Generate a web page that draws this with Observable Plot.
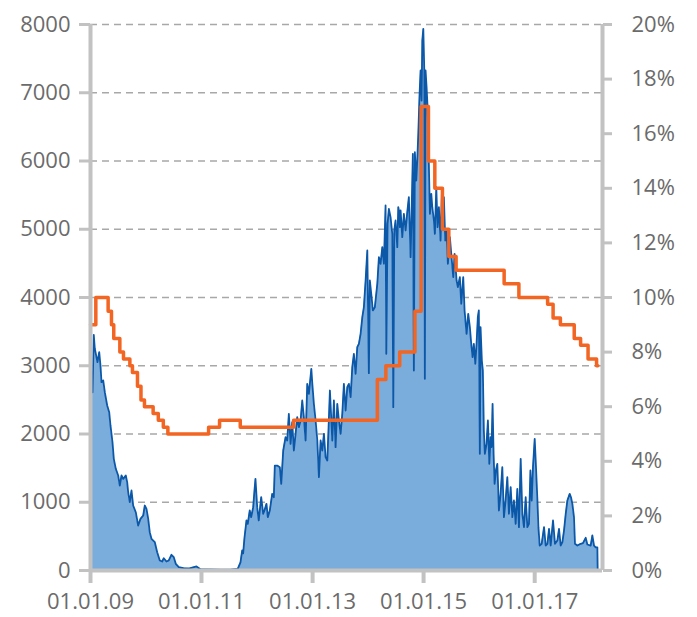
<!DOCTYPE html>
<html>
<head>
<meta charset="utf-8">
<script src="https://cdn.jsdelivr.net/npm/d3@7"></script>
<script src="https://cdn.jsdelivr.net/npm/@observablehq/plot@0.6"></script>
<style>
  html, body { margin: 0; padding: 0; background: #fff; }
  #chart svg { display: block; }
</style>
</head>
<body>
<div id="chart"></div>
<script>
// Blue series: [decimal year, value] (left axis)
const blueSeries = [
  [2009.036, 2612], [2009.059, 3453], [2009.077, 3253], [2009.108, 3126], [2009.126, 3052],
  [2009.157, 3199], [2009.180, 3004], [2009.198, 2759], [2009.229, 2784], [2009.258, 2612],
  [2009.301, 2418], [2009.337, 2320], [2009.360, 2125], [2009.396, 1880], [2009.420, 1636],
  [2009.456, 1490], [2009.499, 1392], [2009.528, 1245], [2009.559, 1392], [2009.589, 1343],
  [2009.636, 1392], [2009.661, 1294], [2009.679, 1147], [2009.708, 1001], [2009.739, 1172],
  [2009.769, 952], [2009.816, 854], [2009.859, 659], [2009.901, 757], [2009.950, 806],
  [2009.978, 952], [2010.009, 904], [2010.040, 757], [2010.068, 561], [2010.099, 464],
  [2010.159, 415], [2010.202, 268], [2010.249, 147], [2010.292, 132], [2010.321, 180],
  [2010.369, 132], [2010.411, 147], [2010.459, 230], [2010.501, 195], [2010.537, 98],
  [2010.591, 49], [2010.676, 35], [2010.771, 29], [2010.910, 60], [2010.982, 20],
  [2011.162, 15], [2011.342, 12], [2011.523, 14], [2011.654, 24], [2011.703, 120],
  [2011.733, 293], [2011.751, 250], [2011.775, 480], [2011.811, 733], [2011.834, 684],
  [2011.870, 879], [2011.896, 781], [2011.932, 928], [2011.955, 1172], [2011.973, 1343],
  [2012.004, 928], [2012.032, 733], [2012.076, 1074], [2012.112, 831], [2012.135, 879],
  [2012.171, 977], [2012.195, 781], [2012.231, 879], [2012.274, 1123], [2012.303, 1074],
  [2012.321, 1538], [2012.364, 1538], [2012.411, 1514], [2012.436, 1270], [2012.472, 1758],
  [2012.514, 1953], [2012.544, 1905], [2012.573, 2296], [2012.604, 1856], [2012.634, 2173],
  [2012.663, 1758], [2012.694, 2003], [2012.724, 2246], [2012.753, 2100], [2012.784, 2198],
  [2012.814, 2491], [2012.843, 2246], [2012.874, 1905], [2012.904, 2735], [2012.933, 2589],
  [2012.977, 2955], [2012.995, 2735], [2013.023, 2442], [2013.054, 2198], [2013.085, 1905],
  [2013.114, 1367], [2013.144, 1905], [2013.175, 1758], [2013.204, 2003], [2013.234, 1660],
  [2013.265, 1612], [2013.288, 2100], [2013.312, 2637], [2013.355, 1905], [2013.384, 2491],
  [2013.414, 1807], [2013.445, 2442], [2013.474, 2198], [2013.505, 2003], [2013.535, 2296],
  [2013.564, 2735], [2013.595, 2344], [2013.625, 2686], [2013.654, 2735], [2013.685, 2540],
  [2013.715, 2979], [2013.744, 3175], [2013.775, 2882], [2013.805, 3272], [2013.834, 3321],
  [2013.865, 3468], [2013.896, 3712], [2013.924, 3858], [2013.955, 4249], [2013.986, 4689],
  [2014.014, 2891], [2014.032, 4249], [2014.063, 4005], [2014.086, 3810], [2014.122, 3858],
  [2014.166, 4200], [2014.195, 4591], [2014.225, 4494], [2014.256, 4737], [2014.285, 4494],
  [2014.315, 5348], [2014.328, 3175], [2014.351, 5079], [2014.375, 5299], [2014.405, 5177],
  [2014.436, 4933], [2014.454, 2393], [2014.472, 4982], [2014.495, 5128], [2014.526, 4737],
  [2014.544, 5323], [2014.555, 5275], [2014.573, 5030], [2014.586, 5275], [2014.616, 4884],
  [2014.645, 5226], [2014.676, 4982], [2014.706, 5250], [2014.735, 5470], [2014.766, 4591],
  [2014.784, 5226], [2014.807, 6105], [2014.825, 2930], [2014.843, 6129], [2014.868, 5714],
  [2014.886, 6007], [2014.905, 6398], [2014.928, 6984], [2014.946, 7326], [2014.964, 6886],
  [2014.977, 7765], [2014.995, 7937], [2015.013, 7326], [2015.023, 2809], [2015.036, 7326],
  [2015.054, 7082], [2015.072, 6788], [2015.095, 5959], [2015.114, 5226], [2015.139, 5519],
  [2015.157, 5323], [2015.186, 5128], [2015.204, 4933], [2015.229, 5616], [2015.252, 5030],
  [2015.276, 5323], [2015.306, 4835], [2015.330, 5519], [2015.351, 5100], [2015.366, 5470],
  [2015.391, 4835], [2015.414, 4982], [2015.438, 4494], [2015.474, 4884], [2015.499, 4640],
  [2015.535, 4298], [2015.559, 4640], [2015.595, 4249], [2015.618, 4151], [2015.654, 4298],
  [2015.679, 3908], [2015.715, 4298], [2015.739, 3810], [2015.775, 3468], [2015.805, 3761],
  [2015.834, 3565], [2015.859, 3321], [2015.883, 3126], [2015.906, 3321], [2015.932, 3029],
  [2015.955, 3321], [2015.978, 3712], [2015.996, 3810], [2016.014, 1710], [2016.027, 3565],
  [2016.050, 3077], [2016.068, 2930], [2016.086, 2051], [2016.104, 1710], [2016.135, 1856],
  [2016.159, 2198], [2016.184, 1563], [2016.207, 1953], [2016.225, 1807], [2016.243, 2442],
  [2016.261, 1710], [2016.279, 1270], [2016.303, 1465], [2016.328, 1563], [2016.357, 879],
  [2016.387, 1123], [2016.418, 1514], [2016.447, 781], [2016.477, 1026], [2016.508, 1367],
  [2016.537, 831], [2016.568, 1221], [2016.598, 781], [2016.627, 1026], [2016.658, 684],
  [2016.688, 1197], [2016.717, 635], [2016.748, 1636], [2016.778, 831], [2016.807, 635],
  [2016.838, 1074], [2016.868, 635], [2016.897, 684], [2016.923, 1465], [2016.946, 1026],
  [2016.969, 1514], [2017.000, 1929], [2017.018, 1612], [2017.049, 1026], [2017.067, 635],
  [2017.090, 366], [2017.126, 391], [2017.168, 635], [2017.198, 366], [2017.229, 391],
  [2017.258, 611], [2017.288, 366], [2017.330, 733], [2017.366, 391], [2017.409, 440],
  [2017.438, 611], [2017.468, 366], [2017.499, 415], [2017.528, 586], [2017.559, 831],
  [2017.589, 1026], [2017.631, 1123], [2017.654, 1074], [2017.679, 977], [2017.708, 781],
  [2017.726, 391], [2017.769, 366], [2017.829, 391], [2017.870, 400], [2017.919, 479],
  [2017.949, 381], [2018.009, 366], [2018.039, 513], [2018.069, 366], [2018.099, 340],
  [2018.129, 340], [2018.135, 0]
];

// Orange step series: [start date, rate %] (right axis)
const rateSteps = [
  ["2009-01-01", 9], ["2009-02-05", 10], ["2009-04-27", 9.5], ["2009-05-19", 9],
  ["2009-06-03", 8.5], ["2009-07-13", 8], ["2009-08-06", 7.75], ["2009-09-17", 7.5],
  ["2009-10-04", 7.25], ["2009-11-06", 6.75], ["2009-11-29", 6.25], ["2009-12-22", 6],
  ["2010-02-17", 5.75], ["2010-03-23", 5.5], ["2010-04-25", 5.25], ["2010-05-25", 5],
  ["2011-02-17", 5.25], ["2011-04-30", 5.5], ["2011-09-13", 5.25], ["2012-08-29", 5.5],
  ["2014-03-03", 7], ["2014-04-28", 7.5], ["2014-07-28", 8], ["2014-11-05", 9.5],
  ["2014-12-16", 17], ["2015-02-02", 15], ["2015-03-16", 14], ["2015-05-05", 12.5],
  ["2015-06-16", 11.5], ["2015-08-03", 11], ["2016-06-14", 10.5], ["2016-09-19", 10],
  ["2017-03-27", 9.75], ["2017-05-02", 9.25], ["2017-06-19", 9], ["2017-09-18", 8.5],
  ["2017-10-30", 8.25], ["2017-12-18", 7.75], ["2018-02-12", 7.5], ["2018-02-20", 7.5]
];

const xTicks = ["2009-01-01", "2011-01-01", "2013-01-01", "2015-01-01", "2017-01-01"];
const leftTicks = [0, 1000, 2000, 3000, 4000, 5000, 6000, 7000, 8000];
const rightTicks = [0, 2, 4, 6, 8, 10, 12, 14, 16, 18, 20];
const gridValues = [1000, 2000, 3000, 4000, 5000, 6000, 7000, 8000];

function decToDate(t) {
  const y = Math.floor(t);
  const a = Date.UTC(y, 0, 1), b = Date.UTC(y + 1, 0, 1);
  return new Date(a + (t - y) * (b - a));
}

const blue = blueSeries.map(([t, v]) => ({date: decToDate(t), value: v}));
const SCALE = 8000 / 20; // right axis 0–20% mapped onto left 0–8000
const rate = rateSteps.map(([d, r]) => ({date: new Date(d), value: r * SCALE}));

const xDomain = [new Date("2009-01-01"), new Date("2018-03-23")];
const axisGray = "#c2c2c2";
const textGray = "#6b6b6b";
const fmt = d3.utcFormat("%d.%m.%y");

const chart = Plot.plot({
  width: 697,
  height: 617,
  marginLeft: 90,
  marginRight: 95,
  marginTop: 24,
  marginBottom: 47,
  style: {fontFamily: "'Open Sans', sans-serif", background: "#fff"},
  x: {type: "utc", domain: xDomain},
  y: {domain: [0, 8000]},
  marks: [
    Plot.ruleY(gridValues, {stroke: "#a8a8a8", strokeWidth: 1.6, strokeDasharray: "7,5"}),
    Plot.areaY(blue, {x: "date", y: "value", fill: "#7aacdc"}),
    Plot.lineY(blue, {x: "date", y: "value", stroke: "#0b57a8", strokeWidth: 1.8, strokeLinejoin: "round"}),
    Plot.lineY(rate, {x: "date", y: "value", curve: "step-after", stroke: "#f26522", strokeWidth: 3.5}),
    Plot.ruleX([xDomain[0]], {stroke: axisGray, strokeWidth: 4}),
    Plot.ruleX([xDomain[1]], {stroke: axisGray, strokeWidth: 4}),
    Plot.ruleY([0], {stroke: axisGray, strokeWidth: 4}),
    Plot.axisX({
      ticks: xTicks.map(d => new Date(d)), tickFormat: fmt, tickSize: 13, tickPadding: 10,
      stroke: axisGray, strokeWidth: 4, fill: textGray, fontSize: 22, label: null
    }),
    Plot.axisY({
      anchor: "left", ticks: leftTicks, tickFormat: d => String(d), tickSize: 11, tickPadding: 9,
      stroke: axisGray, strokeWidth: 3, fill: textGray, fontSize: 22, label: null
    }),
    Plot.axisY({
      anchor: "right", ticks: rightTicks.map(r => r * SCALE), tickFormat: d => (d / SCALE) + "%",
      tickSize: 9, tickPadding: 20, stroke: axisGray, strokeWidth: 3, fill: textGray, fontSize: 22, label: null
    })
  ]
});

document.getElementById("chart").appendChild(chart);
</script>
</body>
</html>
